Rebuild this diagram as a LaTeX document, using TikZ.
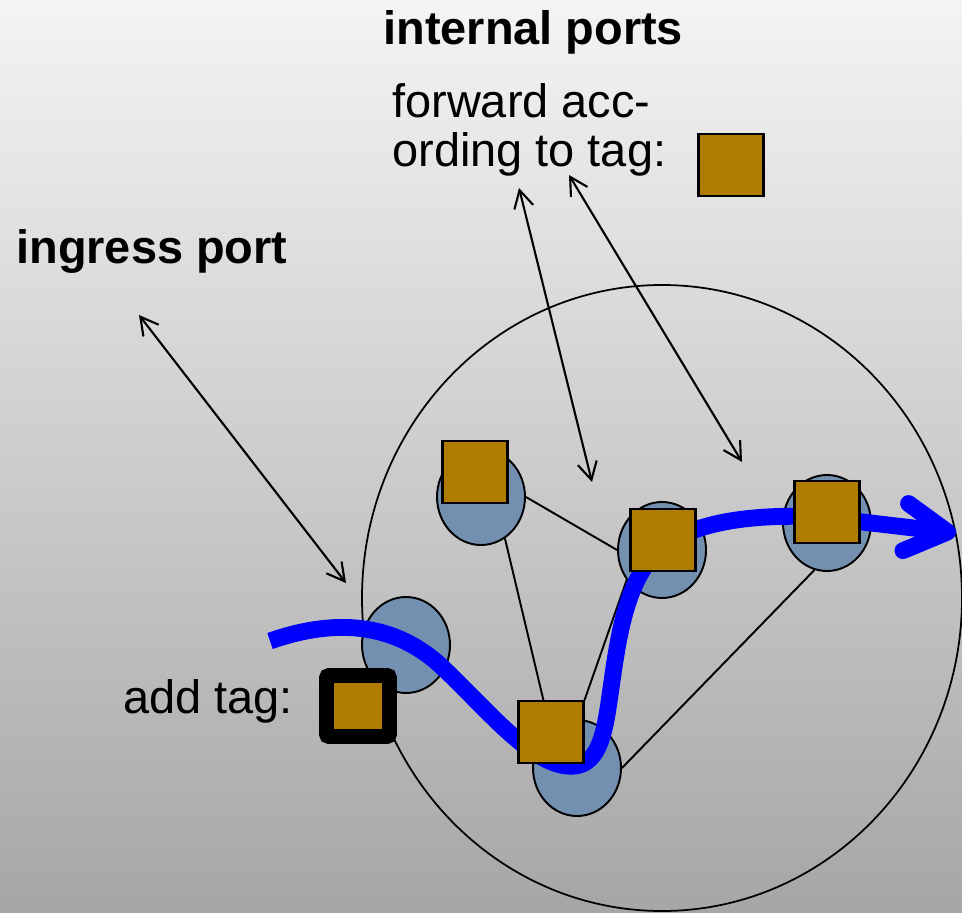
\documentclass[tikz,border=0pt]{standalone}
\usepackage{fontspec}
\setmainfont{Liberation Sans}
\usetikzlibrary{shapes.geometric,arrows.meta}

\definecolor{tagbrown}{RGB}{176,124,0}
\definecolor{portblue}{RGB}{116,144,176}
\definecolor{bgtop}{RGB}{244,244,244}
\definecolor{bgbottom}{RGB}{166,166,166}
\newcommand{\labelsize}{\fontsize{26.7pt}{28.4pt}\selectfont}

\pgfdeclarelayer{back}
\pgfsetlayers{back,main}

\begin{document}
\begin{tikzpicture}[x=0.02cm, y=-0.02cm,
  port/.style={ellipse, draw=black, line width=1.1pt, fill=portblue, minimum width=1.76cm, minimum height=1.92cm, inner sep=0},
  tag/.style={rectangle, draw=black, line width=1.2pt, fill=tagbrown, minimum width=1.3cm, minimum height=1.24cm, inner sep=0},
  link/.style={black, line width=1.1pt},
  pointer/.style={black, line width=1.2pt, {Straight Barb[length=10pt,width=11pt]}-{Straight Barb[length=10pt,width=11pt]}},
  flow/.style={blue, line width=9.6pt, -{Straight Barb[length=24pt,width=27pt,round]}},
  txt/.style={inner sep=0, font=\labelsize}]
\useasboundingbox (0,0) rectangle (962,912);

% ports of the network
\node[port] (pA) at (481,497) {};
\node[port] (pB) at (662,550) {};
\node[port] (pC) at (827,523) {};
\node[port] (pD) at (406,645) {};
\node[port] (pE) at (577,768) {};

% path of the packet
\draw[flow] (270,641) .. controls (330,620) and (390,620) .. (440,665)
  .. controls (490,712) and (535,770) .. (575,766)
  .. controls (600,763) and (605,730) .. (610,695)
  .. controls (618,640) and (625,575) .. (665,545)
  .. controls (700,520) and (760,514) .. (820,517) -- (956,533);

% tags
\node[tag] (tA) at (475,472) {};
\node[tag] (tB) at (663,540) {};
\node[tag] (tC) at (827,512) {};
\node[tag] (tE) at (551,732) {};
\node[tag, line width=8.5pt, rounded corners=1.5pt, minimum width=1.26cm, minimum height=1.22cm] (tNew) at (358,706) {};
\node[tag] (tKey) at (731,165) {};

% texts
\node[txt, anchor=base west, font=\labelsize\bfseries] (internal) at (383,45) {internal ports};
\node[txt, anchor=base west, align=left] (forward) at (392,167) {forward acc-\\ording to tag:};
\node[txt, anchor=base west, font=\labelsize\bfseries] (ingress) at (16,263) {ingress port};
\node[txt, anchor=base west] (addtag) at (123,713) {add tag:};

% pointers
\coordinate (inA) at (139,315);
\coordinate (inB) at (346,583);
\coordinate (fwA) at (519,188);
\coordinate (fwB) at (592,482);
\coordinate (fwC) at (569,175);
\coordinate (fwD) at (742,462);
\draw[pointer] (inA) -- (inB);
\draw[pointer] (fwA) -- (fwB);
\draw[pointer] (fwC) -- (fwD);

\begin{pgfonlayer}{back}
\shade[top color=bgtop, bottom color=bgbottom] (0,0) rectangle (962,912);
\draw[black, line width=1pt] (662,598) ellipse [x radius=300, y radius=313];
\draw[link] (pA.east) -- (pB.west);
\draw[link] (pA.300) -- (tE.center);
\draw[link] (pD.-40) -- (tE.west);
\draw[link] (tE.north east) -- (tB.south west);
\draw[link] (pE.east) -- (pC.255);
\end{pgfonlayer}
\end{tikzpicture}
\end{document}
